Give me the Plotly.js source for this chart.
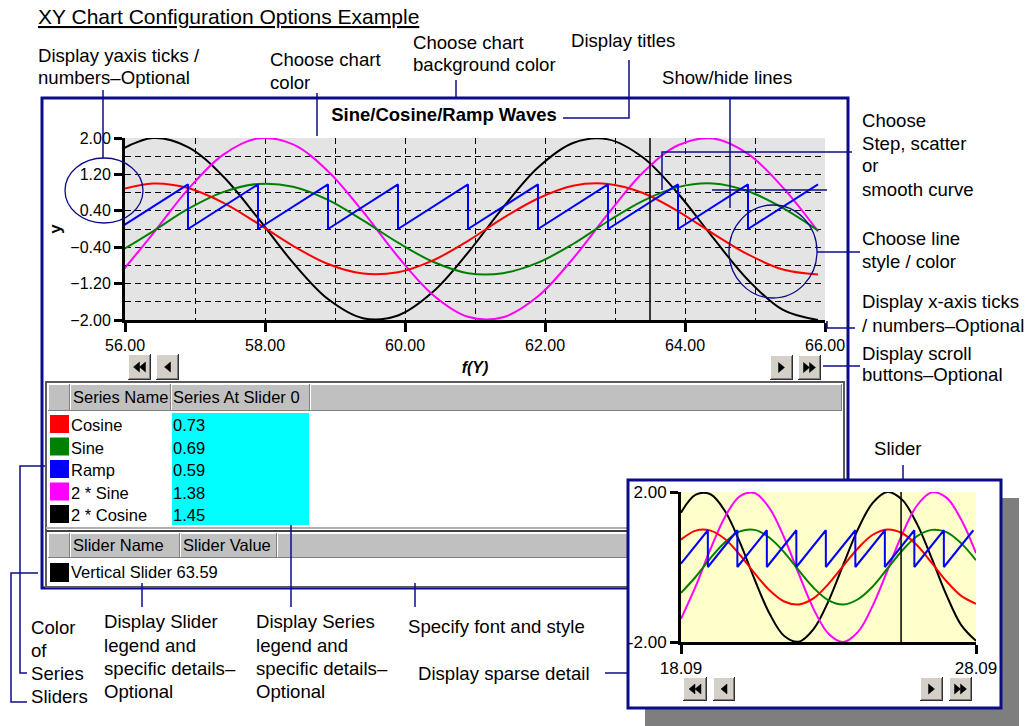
<!DOCTYPE html>
<html><head><meta charset="utf-8">
<script src="https://cdn.plot.ly/plotly-3.0.1.min.js"></script>
<style>html,body{margin:0;padding:0;background:#fff;}#chart{width:1027px;height:726px;}</style>
</head><body><div id="chart"></div>
<script>
// ---------------- data ----------------
const mainX = [55.9,56.4,56.9,57.4,57.9,58.4,58.9,59.4,59.9,60.4,60.9,61.4,61.9,62.4,62.9,63.4,63.9,64.4,64.9,65.4,65.9];
const mainCosine   = [0.85,1.00,0.90,0.58,0.12,-0.37,-0.77,-0.98,-0.95,-0.69,-0.26,0.24,0.67,0.95,0.99,0.79,0.39,-0.10,-0.56,-0.89,-1.00];
const mainSine     = [-0.52,-0.05,0.44,0.81,0.99,0.93,0.64,0.19,-0.30,-0.72,-0.97,-0.97,-0.74,-0.33,0.17,0.62,0.92,1.00,0.83,0.46,-0.03];
const mainTwoSine  = [-1.04,-0.10,0.87,1.63,1.99,1.86,1.27,0.38,-0.61,-1.45,-1.93,-1.94,-1.48,-0.65,0.33,1.24,1.84,1.99,1.65,0.91,-0.05];
const mainTwoCos   = [1.71,2.00,1.80,1.16,0.24,-0.74,-1.54,-1.96,-1.90,-1.38,-0.52,0.47,1.35,1.89,1.97,1.57,0.78,-0.19,-1.12,-1.78,-2.00];
const mainRampX = [55.9,56.9,56.9,57.9,57.9,58.9,58.9,59.9,59.9,60.9,60.9,61.9,61.9,62.9,62.9,63.9,63.9,64.9,64.9,65.9];
const mainRampY = [0,0.98,0,0.98,0,0.98,0,0.98,0,0.98,0,0.98,0,0.98,0,0.98,0,0.98,0,0.98];
const mainSliderX = 63.5;

const miniX = [18.09,18.59,19.09,19.59,20.09,20.59,21.09,21.59,22.09,22.59,23.09,23.59,24.09,24.59,25.09,25.59,26.09,26.59,27.09,27.59,28.09];
const miniCosine  = [0.73,0.97,0.97,0.74,0.32,-0.17,-0.62,-0.92,-1.00,-0.83,-0.45,0.03,0.50,0.86,1.00,0.90,0.58,0.11,-0.38,-0.77,-0.98];
const miniSine    = [-0.69,-0.26,0.24,0.67,0.95,0.99,0.78,0.39,-0.10,-0.56,-0.89,-1.00,-0.86,-0.52,-0.04,0.44,0.82,0.99,0.93,0.63,0.18];
const miniTwoSine = [-1.38,-0.51,0.48,1.35,1.89,1.97,1.57,0.78,-0.20,-1.13,-1.78,-2.00,-1.73,-1.03,-0.09,0.88,1.64,1.99,1.85,1.26,0.37];
const miniTwoCos  = [1.45,1.93,1.94,1.48,0.65,-0.34,-1.24,-1.84,-1.99,-1.65,-0.91,0.06,1.01,1.71,2.00,1.79,1.15,0.23,-0.75,-1.55,-1.97];
const miniRampX = [18.09,19,19,20,20,21,21,22,22,23,23,24,24,25,25,26,26,27,27,28];
const miniRampY = [0.09,0.98,0,0.98,0,0.98,0,0.98,0,0.98,0,0.98,0,0.98,0,0.98,0,0.98,0,0.98];
const miniSliderX = 25.55;
const miniXTicks = [18.09, 28.09];
const miniXTickText = ['18.09', '28.09'];
const miniYTicks = [-2, 2];
const miniYTickText = ['-2.00', '2.00'];

const seriesNames = ['Cosine', 'Sine', 'Ramp', '2 * Sine', '2 * Cosine'];
const seriesAtSlider = [0.73, 0.69, 0.59, 1.38, 1.45];
const sliderNames = ['Vertical Slider'];
const sliderValues = [63.59];

// ---------------- styles / geometry ----------------
const seriesColors = ['#ff0000', '#008000', '#0000ff', '#ff00ff', '#000000'];
const FONT = 'Liberation Sans, Arial, sans-serif';
const NAVY = '#0c0c88';
const W = 1027, H = 726;
const X = p => p / W;
const Y = p => 1 - p / H;

const shapes = [];
function rect(x0, y0, x1, y1, fill, lineColor, lw, layer) {
  shapes.push({type: 'rect', xref: 'paper', yref: 'paper', x0: X(x0), x1: X(x1), y0: Y(y1), y1: Y(y0),
    fillcolor: fill || 'rgba(0,0,0,0)', line: {color: lineColor || 'rgba(0,0,0,0)', width: lw || 0}, layer: layer || 'below'});
}
function seg(x0, y0, x1, y1, color, w, layer) {
  shapes.push({type: 'line', xref: 'paper', yref: 'paper', x0: X(x0), x1: X(x1), y0: Y(y0), y1: Y(y1),
    line: {color: color, width: w}, layer: layer || 'below'});
}
function poly(pts, color, w, layer, fill) {
  let d = pts.map((p, i) => (i ? 'L' : 'M') + X(p[0]) + ',' + Y(p[1])).join(' ');
  if (fill) d += ' Z';
  shapes.push({type: 'path', xref: 'paper', yref: 'paper', path: d,
    line: {color: color, width: w}, fillcolor: fill || 'rgba(0,0,0,0)', layer: layer || 'below'});
}
function ellipse(x0, y0, x1, y1) {
  shapes.push({type: 'circle', xref: 'paper', yref: 'paper', x0: X(x0), x1: X(x1), y0: Y(y1), y1: Y(y0),
    line: {color: NAVY, width: 1.3}, layer: 'above'});
}
function cell3d(x0, y0, x1, y1) {
  rect(x0, y0, x1, y1, '#c0c0c0');
  seg(x0, y0 + 0.5, x1, y0 + 0.5, '#ffffff', 1);
  seg(x0 + 0.5, y0, x0 + 0.5, y1, '#ffffff', 1);
  seg(x0, y1 - 0.5, x1, y1 - 0.5, '#808080', 1);
  seg(x1 - 0.5, y0, x1 - 0.5, y1, '#808080', 1);
}
function tri(tipX, cy, dir) { // dir -1 = points left, 1 = points right
  const w = 6, h = 10;
  poly([[tipX, cy], [tipX - dir * w, cy - h / 2], [tipX - dir * w, cy + h / 2]], '#000', 0.5, 'below', '#000');
}
function button(x0, y0, x1, y1, kind) {
  rect(x0, y0, x1, y1, '#d4d0c8');
  seg(x0, y0 + 0.5, x1, y0 + 0.5, '#ffffff', 1);
  seg(x0 + 0.5, y0, x0 + 0.5, y1, '#ffffff', 1);
  seg(x0 + 1, y1 - 1.5, x1 - 1, y1 - 1.5, '#808080', 1);
  seg(x1 - 1.5, y0 + 1, x1 - 1.5, y1 - 1, '#808080', 1);
  seg(x0, y1 - 0.5, x1, y1 - 0.5, '#303030', 1);
  seg(x1 - 0.5, y0, x1 - 0.5, y1, '#303030', 1);
  const cx = (x0 + x1) / 2, cy = (y0 + y1) / 2;
  if (kind === 'first') { tri(cx - 6, cy, -1); tri(cx, cy, -1); }
  if (kind === 'prev') { tri(cx - 3, cy, -1); }
  if (kind === 'next') { tri(cx + 3, cy, 1); }
  if (kind === 'last') { tri(cx, cy, 1); tri(cx + 6, cy, 1); }
}

// shadow of the sparse detail box
rect(645, 498, 1019, 726, '#7e7e7e');
// main frame
rect(42, 98, 848, 588, '#ffffff', NAVY, 3);

// main chart scroll buttons
button(128, 354, 151, 380, 'first');
button(156, 354, 179, 380, 'prev');
button(770, 355, 793, 380, 'next');
button(798, 355, 821, 380, 'last');

// tables
rect(46, 382, 844, 587, '#ffffff', '#5a5a5a', 2);
cell3d(48, 384, 70, 411); cell3d(70, 384, 171, 411); cell3d(171, 384, 310, 411); cell3d(310, 384, 842, 411);
rect(172, 413, 309, 525, '#00ffff');
seriesColors.forEach((c, i) => rect(50, 415 + i * 22.5, 69, 433 + i * 22.5, c));
seg(46, 528, 844, 528, '#b0b0b0', 2);
seg(46, 531, 844, 531, '#404040', 2);
cell3d(48, 533, 70, 558); cell3d(70, 533, 180, 558); cell3d(180, 533, 277, 558); cell3d(277, 533, 842, 558);
rect(50, 563, 69, 582, '#000000');

// sparse detail box
rect(628, 480, 1001, 708, '#ffffff', NAVY, 3);
button(683, 677, 707, 701, 'first');
button(713, 677, 735, 701, 'prev');
button(920, 677, 943, 701, 'next');
button(949, 677, 972, 701, 'last');

// plot backgrounds (under grid)
shapes.push({type: 'rect', xref: 'x domain', yref: 'y domain', x0: 0, x1: 1, y0: 0, y1: 1,
  fillcolor: '#e4e4e4', line: {width: 0}, layer: 'below'});
shapes.push({type: 'rect', xref: 'x2 domain', yref: 'y2 domain', x0: 0, x1: 1, y0: 0, y1: 1,
  fillcolor: '#ffffcc', line: {width: 0}, layer: 'below'});

// callout lines
const A = 'above';
seg(103, 90, 103, 158, NAVY, 1.5, A);
ellipse(65, 158, 143, 223);
seg(317, 93, 317, 136, NAVY, 1.5, A);
seg(456, 80, 456, 98, NAVY, 1.5, A);
poly([[629, 60], [629, 118], [563, 118]], NAVY, 1.5, A);
seg(730, 98, 730, 208, NAVY, 1.5, A);
seg(712, 190, 827, 190, NAVY, 1.5, A);
poly([[852, 152], [662, 152], [662, 190]], NAVY, 1.5, A);
ellipse(729, 205, 817, 298);
seg(817, 252, 860, 252, NAVY, 1.5, A);
poly([[827, 321], [827, 328], [855, 328]], NAVY, 1.5, A);
seg(823, 366, 860, 366, NAVY, 1.5, A);
seg(903, 465, 903, 480, NAVY, 1.5, A);
poly([[45, 466], [20, 466], [20, 673], [27, 673]], NAVY, 1.5, A);
poly([[38, 573], [11, 573], [11, 702], [27, 702]], NAVY, 1.5, A);
seg(142, 583, 142, 607, NAVY, 1.5, A);
seg(291, 525, 291, 607, NAVY, 1.5, A);
seg(415, 583, 415, 607, NAVY, 1.5, A);
seg(605, 673, 628, 673, NAVY, 1.5, A);

// ---------------- text ----------------
const annotations = [];
function txt(x, y, text, size, extra) {
  annotations.push(Object.assign({xref: 'paper', yref: 'paper', x: X(x), y: Y(y), text: text, showarrow: false,
    xanchor: 'left', yanchor: 'middle', align: 'left', borderpad: 0,
    font: {family: FONT, size: size, color: '#000'}}, extra || {}));
}
function lines(x, ys, texts) { texts.forEach((t, i) => txt(x, ys[i], t, 18.6)); }
txt(37, 17, 'XY Chart Configuration Options Example', 21, {font: {family: FONT, size: 21, color: '#000', lineposition: 'under'}});
lines(37, [55, 77], ['Display yaxis ticks /', 'numbers–Optional']);
lines(269, [60, 82], ['Choose chart', 'color']);
lines(412, [42, 65], ['Choose chart', 'background color']);
lines(570, [40], ['Display titles']);
lines(661, [77], ['Show/hide lines']);
lines(861, [120, 143, 166, 189], ['Choose', 'Step, scatter', 'or', 'smooth curve']);
lines(861, [238, 261], ['Choose line', 'style / color']);
lines(861, [301, 325], ['Display x-axis ticks', '/ numbers–Optional']);
lines(861, [353, 375], ['Display scroll', 'buttons–Optional']);
lines(873, [448], ['Slider']);
lines(30, [627, 650, 673, 696], ['Color', 'of', 'Series', 'Sliders']);
lines(103, [621, 645, 668, 691], ['Display Slider', 'legend and', 'specific details–', 'Optional']);
lines(255, [621, 645, 668, 691], ['Display Series', 'legend and', 'specific details–', 'Optional']);
lines(407, [626], ['Specify font and style']);
lines(417, [673], ['Display sparse detail']);

// table text
const TS = 16.5;
txt(72, 397, 'Series Name', TS);
txt(172, 397, 'Series At Slider 0', TS);
seriesNames.forEach((n, i) => {
  txt(70, 425 + i * 22.5, n, TS);
  txt(172, 425 + i * 22.5, seriesAtSlider[i].toFixed(2), TS);
});
txt(72, 545, 'Slider Name', TS);
txt(182, 545, 'Slider Value', TS);
sliderNames.forEach((n, i) => txt(70, 572, n + ' ' + sliderValues[i].toFixed(2), TS));

// ---------------- traces ----------------
const seriesMain = [
  {y: mainTwoCos, c: 4}, {y: mainTwoSine, c: 3}, {y: mainSine, c: 1}, {y: mainCosine, c: 0}
];
const traces = [];
seriesMain.forEach(s => traces.push({x: mainX, y: s.y, type: 'scatter', mode: 'lines',
  line: {color: seriesColors[s.c], width: 2, shape: 'spline', smoothing: 1}, xaxis: 'x', yaxis: 'y', hoverinfo: 'skip'}));
traces.push({x: mainRampX, y: mainRampY, type: 'scatter', mode: 'lines',
  line: {color: seriesColors[2], width: 2}, xaxis: 'x', yaxis: 'y', hoverinfo: 'skip'});
traces.push({x: [mainSliderX, mainSliderX], y: [-2, 2], type: 'scatter', mode: 'lines',
  line: {color: '#000', width: 1.5}, xaxis: 'x', yaxis: 'y', hoverinfo: 'skip'});

const seriesMini = [
  {y: miniTwoCos, c: 4}, {y: miniTwoSine, c: 3}, {y: miniSine, c: 1}, {y: miniCosine, c: 0}
];
seriesMini.forEach(s => traces.push({x: miniX, y: s.y, type: 'scatter', mode: 'lines',
  line: {color: seriesColors[s.c], width: 2, shape: 'spline', smoothing: 1}, xaxis: 'x2', yaxis: 'y2', hoverinfo: 'skip'}));
traces.push({x: miniRampX, y: miniRampY, type: 'scatter', mode: 'lines',
  line: {color: seriesColors[2], width: 2}, xaxis: 'x2', yaxis: 'y2', hoverinfo: 'skip'});
traces.push({x: [miniSliderX, miniSliderX], y: [-2, 2], type: 'scatter', mode: 'lines',
  line: {color: '#000', width: 1.5}, xaxis: 'x2', yaxis: 'y2', hoverinfo: 'skip'});

const tickFont = {family: FONT, size: 16, color: '#000'};
const gridDash = '6px,4px';
const layout = {
  width: W, height: H, margin: {l: 0, r: 0, t: 0, b: 0},
  paper_bgcolor: '#ffffff', plot_bgcolor: 'rgba(0,0,0,0)', showlegend: false,
  title: {text: '<b>Sine/Cosine/Ramp Waves</b>', x: X(444), y: Y(115), xref: 'paper', yref: 'paper',
    xanchor: 'center', yanchor: 'middle', font: {family: FONT, size: 18.5, color: '#000'}},
  xaxis: {domain: [X(125), X(825)], range: [56, 66], anchor: 'y',
    tick0: 56, dtick: 2, tickformat: '.2f', ticks: 'outside', ticklen: 9, tickwidth: 3, tickcolor: '#000',
    showline: true, linewidth: 3, linecolor: '#000', zeroline: false,
    showgrid: true, gridcolor: '#000', gridwidth: 1, griddash: gridDash,
    minor: {tick0: 56, dtick: 1, showgrid: true, gridcolor: '#000', gridwidth: 1, griddash: gridDash, ticks: ''},
    tickfont: tickFont, fixedrange: true,
    title: {text: '<b><i>f(Y)</i></b>', font: {family: FONT, size: 16, color: '#000'}, standoff: 9}},
  yaxis: {domain: [Y(320), Y(138)], range: [-2, 2], anchor: 'x',
    tick0: -2, dtick: 0.8, tickformat: '.2f', ticks: 'outside', ticklen: 8, tickwidth: 3, tickcolor: '#000',
    showline: true, linewidth: 3, linecolor: '#000', zeroline: false,
    showgrid: true, gridcolor: '#000', gridwidth: 1, griddash: gridDash,
    minor: {tick0: -2, dtick: 0.4, showgrid: true, gridcolor: '#000', gridwidth: 1, griddash: gridDash, ticks: ''},
    tickfont: tickFont, fixedrange: true,
    title: {text: '<b>y</b>', font: {family: FONT, size: 17, color: '#000'}, standoff: 5}},
  xaxis2: {domain: [X(681), X(976)], range: [18.09, 28.09], anchor: 'y2',
    tickvals: miniXTicks, ticktext: miniXTickText, ticks: 'outside', ticklen: 9, tickwidth: 3, tickcolor: '#000',
    showline: true, linewidth: 3, linecolor: '#000', zeroline: false, showgrid: false,
    tickfont: {family: FONT, size: 17, color: '#000'}, fixedrange: true},
  yaxis2: {domain: [Y(642), Y(492)], range: [-2, 2], anchor: 'x2',
    tickvals: miniYTicks, ticktext: miniYTickText, ticks: 'outside', ticklen: 8, tickwidth: 3, tickcolor: '#000',
    showline: true, linewidth: 3, linecolor: '#000', zeroline: false, showgrid: false,
    tickfont: {family: FONT, size: 17, color: '#000'}, fixedrange: true},
  shapes: shapes,
  annotations: annotations
};
Plotly.newPlot('chart', traces, layout, {displayModeBar: false, staticPlot: true});
</script>
</body></html>
